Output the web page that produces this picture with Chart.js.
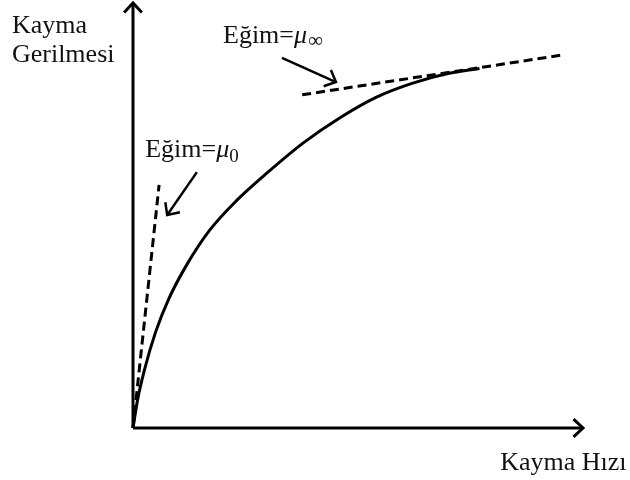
<!DOCTYPE html>
<html>
<head>
<meta charset="utf-8">
<script src="https://cdn.jsdelivr.net/npm/chart.js@4.4.1/dist/chart.umd.min.js"></script>
<style>
  html, body { margin: 0; background: #fff; }
  #wrap { width: 630px; height: 480px; }
</style>
</head>
<body>
<div id="wrap"><canvas id="flowChart"></canvas></div>
<script>
// shear stress vs shear rate (arbitrary units)
const curveX = [0, 0.1, 0.25, 0.5, 0.8, 1.2, 1.7, 2.3, 3.0, 3.8, 4.6, 5.4, 6.2, 7.0, 7.7];
const curveY = [0, 0.65, 1.35, 2.25, 3.05, 3.85, 4.65, 5.35, 6.02, 6.72, 7.3, 7.78, 8.11, 8.34, 8.46];

// tangent at zero shear rate (mu_0) and at high shear rate (mu_inf)
const tangent0X = [0, 0.58];
const tangent0Y = [0, 5.72];
const tangentInfX = [3.76, 9.56];
const tangentInfY = [7.84, 8.78];

// pointer arrows: [fromX, fromY, toX, toY]
const arrowInf = [3.31, 8.71, 4.51, 8.14];
const arrow0 = [1.42, 6.02, 0.76, 5.01];

const yTitle = ["Kayma", "Gerilmesi"];
const xTitle = "Kayma Hızı";

const toPoints = (xs, ys) => xs.map((x, i) => ({ x: x, y: ys[i] }));

function drawArrow(ctx, x1, y1, x2, y2, head) {
  const a = Math.atan2(y2 - y1, x2 - x1);
  ctx.beginPath();
  ctx.moveTo(x1, y1);
  ctx.lineTo(x2, y2);
  ctx.stroke();
  ctx.beginPath();
  ctx.moveTo(x2 - head * Math.cos(a - 0.75), y2 - head * Math.sin(a - 0.75));
  ctx.lineTo(x2, y2);
  ctx.lineTo(x2 - head * Math.cos(a + 0.75), y2 - head * Math.sin(a + 0.75));
  ctx.stroke();
}

const sketchPlugin = {
  id: "sketch",
  afterDatasetsDraw(chart) {
    const ctx = chart.ctx;
    const xs = chart.scales.x;
    const ys = chart.scales.y;
    const px = (v) => xs.getPixelForValue(v);
    const py = (v) => ys.getPixelForValue(v);

    ctx.save();
    ctx.strokeStyle = "#000";
    ctx.lineCap = "butt";
    ctx.lineJoin = "miter";

    // axes
    ctx.lineWidth = 3;
    drawArrow(ctx, px(0), py(0), px(0), py(10), 13);
    drawArrow(ctx, px(0), py(0), px(10), py(0), 13);

    // pointer arrows
    ctx.lineWidth = 2.5;
    drawArrow(ctx, px(arrowInf[0]), py(arrowInf[1]), px(arrowInf[2]), py(arrowInf[3]), 13);
    drawArrow(ctx, px(arrow0[0]), py(arrow0[1]), px(arrow0[2]), py(arrow0[3]), 13);

    // text
    ctx.fillStyle = "#111";
    ctx.textBaseline = "alphabetic";
    ctx.textAlign = "left";
    const base = '26px "Liberation Serif", "DejaVu Serif", serif';

    ctx.font = base;
    ctx.fillText(yTitle[0], px(-2.69), py(9.29));
    ctx.fillText(yTitle[1], px(-2.69), py(8.61));
    ctx.fillText(xTitle, px(8.16), py(-0.99));

    // Eğim=μ∞
    let x = px(2.0), y = py(9.06);
    ctx.font = base;
    ctx.fillText("Eğim=", x, y);
    x += ctx.measureText("Eğim=").width;
    ctx.font = 'italic 26px "Liberation Serif", serif';
    ctx.fillText("μ", x, y);
    x += ctx.measureText("μ").width + 1;
    ctx.font = 'bold italic 21px "Liberation Serif", serif';
    ctx.fillText("∞", x, y + 4);

    // Eğim=μ0
    x = px(0.27); y = py(6.38);
    ctx.font = base;
    ctx.fillText("Eğim=", x, y);
    x += ctx.measureText("Eğim=").width;
    ctx.font = 'italic 26px "Liberation Serif", serif';
    ctx.fillText("μ", x, y);
    x += ctx.measureText("μ").width;
    ctx.font = '19px "Liberation Serif", serif';
    ctx.fillText("0", x, y + 5);

    ctx.restore();
  },
};

new Chart(document.getElementById("flowChart").getContext("2d"), {
  type: "scatter",
  data: {
    datasets: [
      {
        data: toPoints(curveX, curveY),
        showLine: true,
        borderColor: "#000",
        borderWidth: 3,
        pointRadius: 0,
        cubicInterpolationMode: "monotone",
      },
      {
        data: toPoints(tangent0X, tangent0Y),
        showLine: true,
        borderColor: "#000",
        borderWidth: 3,
        borderDash: [9, 5],
        pointRadius: 0,
      },
      {
        data: toPoints(tangentInfX, tangentInfY),
        showLine: true,
        borderColor: "#000",
        borderWidth: 3,
        borderDash: [9, 5],
        pointRadius: 0,
      },
    ],
  },
  options: {
    responsive: true,
    maintainAspectRatio: false,
    animation: false,
    clip: false,
    layout: { padding: { left: 133, right: 47, top: 3, bottom: 52 } },
    plugins: {
      legend: { display: false },
      tooltip: { enabled: false },
    },
    scales: {
      x: { type: "linear", min: 0, max: 10, display: false },
      y: { type: "linear", min: 0, max: 10, display: false },
    },
  },
  plugins: [sketchPlugin],
});
</script>
</body>
</html>
